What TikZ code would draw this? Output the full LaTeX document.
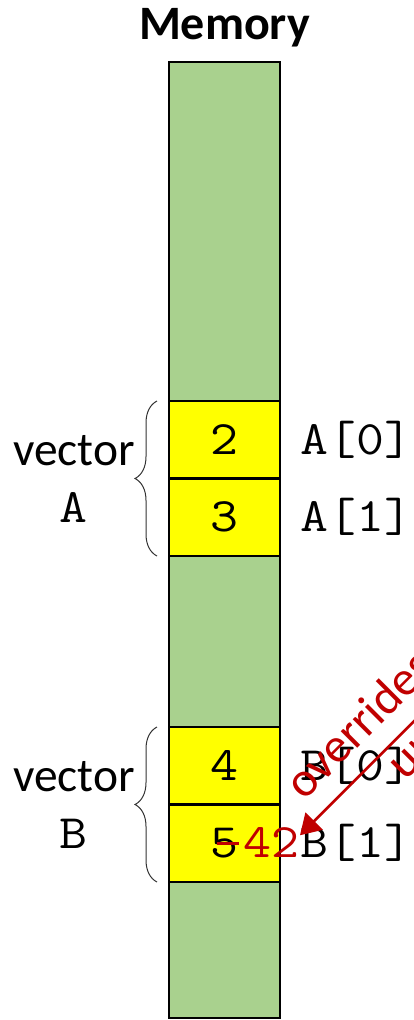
\documentclass[tikz,border=0pt]{standalone}
\usepackage{fontspec}
\setmainfont{Carlito}
\newfontfamily\codefont{Latin Modern Mono}[FakeStretch=1.13]
\usetikzlibrary{positioning,decorations.pathreplacing,arrows.meta}
\definecolor{memgreen}{HTML}{A9D18E}
\definecolor{memyellow}{HTML}{FFFF00}
\definecolor{notered}{HTML}{C00000}
\newcommand\memsize{\fontsize{47.5}{57}\selectfont}
\newcommand\codesize{\fontsize{48}{57}\selectfont\codefont}
\tikzset{
  mem cell/.style={draw, line width=2.5pt, fill=memyellow, minimum width=111pt, minimum height=77.5pt, inner sep=0pt, outer sep=0pt, font=\codesize},
  free cell/.style={mem cell, fill=memgreen},
  index label/.style={inner sep=0pt, font=\codesize},
  vec label/.style={align=center, inner sep=0pt, font=\memsize},
  vec brace/.style={decorate, decoration={brace, amplitude=22pt}, draw=black!80, line width=1pt},
  note/.style={text=notered, font=\fontsize{49}{57}\selectfont, rotate=45, anchor=base west, inner sep=0pt},
}

\begin{document}
\begin{tikzpicture}[x=1pt, y=1pt]
        \useasboundingbox (0,0) rectangle (413,-1020);
        % Memory column
        \node[free cell, minimum height=339pt] (g0) at (224.5,-231.5) {};
        \node[mem cell, below=0pt of g0] (a0) {2};
        \node[mem cell, below=0pt of a0] (a1) {3};
        \node[free cell, minimum height=171pt, below=0pt of a1] (g1) {};
        \node[mem cell, below=0pt of g1] (b0) {4};
        \node[mem cell, below=0pt of b0] (b1) {5};
        \node[free cell, minimum height=136pt, below=0pt of b1] (g2) {};
        \node[font=\fontsize{48}{50}\selectfont\bfseries, inner sep=0pt, above=15pt of g0] (title) {Memory};
        % Indices
        \node[index label, right=20pt of a0] (a0lbl) {A[0]};
        \node[index label, right=20pt of a1] (a1lbl) {A[1]};
        \node[index label, right=20pt of b0] (b0lbl) {B[0]};
        \node[index label, right=20pt of b1] (b1lbl) {B[1]};
        % Vectors
        \draw[vec brace] ([xshift=-12pt]a1.south west) -- ([xshift=-12pt]a0.north west);
        \draw[vec brace] ([xshift=-12pt]b1.south west) -- ([xshift=-12pt]b0.north west);
        \node[vec label, left=34pt of a0.south west] (vecA) {vector\\\codesize A};
        \node[vec label, left=34pt of b0.south west] (vecB) {vector\\\codesize B};
        % Overwrite
        \draw[notered, line width=2.5pt] ([xshift=-8pt]b1.center) -- ([xshift=14pt]b1.center);
        \node[index label, text=notered, anchor=base east] (newval) at (b1lbl.base west) {42};
        \coordinate (tip) at ([yshift=8pt]b1lbl.west);
        \coordinate (noteend) at ([shift={(150,150)}]tip);
        \draw[notered, line width=2.5pt, -{Triangle[length=20pt,width=24pt]}] (noteend) -- (tip);
        \node[note] (note1) at ([shift={(4.3,33.9)}]tip) {overrides};
        \node[note] (note2) at ([shift={(105,54)}]tip) {unexpectedly};
    \end{tikzpicture}
\end{document}
